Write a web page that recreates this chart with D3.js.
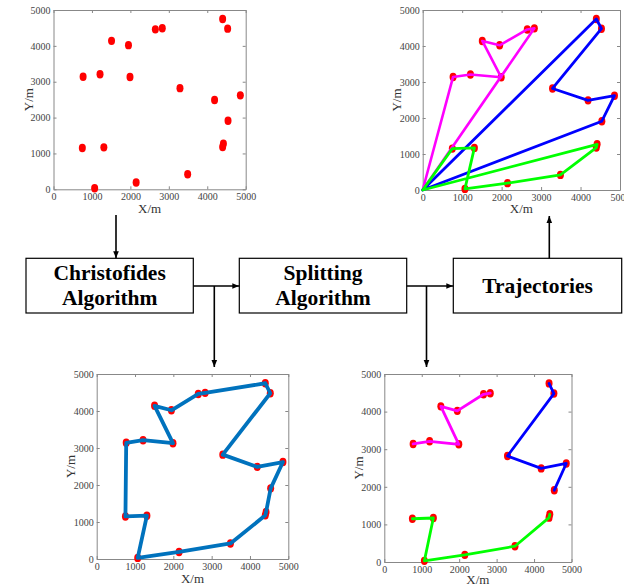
<!DOCTYPE html>
<html>
<head>
<meta charset="utf-8">
<script src="https://cdn.jsdelivr.net/npm/d3@7"></script>
<style>
  html, body { margin: 0; padding: 0; background: #fff; }
  svg { display: block; }
</style>
</head>
<body>
<svg id="chart" width="624" height="587"></svg>
<script>
// ---------------- DATA ----------------
// customer points (metres), listed in Christofides tour order
const pointX = [1070, 2150, 3490, 4400, 4420, 4540, 4860, 4190, 3290, 4530, 4400, 2830, 2650, 1950, 1510, 1990, 1210, 770, 750, 1310];
const pointY = [30, 190, 420, 1180, 1270, 1910, 2620, 2490, 2820, 4480, 4750, 4490, 4460, 4020, 4140, 3130, 3210, 3140, 1150, 1170];
const depot = [0, 0];
const christofidesTour = [0, 1, 2, 3, 4, 5, 6, 7, 8, 9, 10, 11, 12, 13, 14, 15, 16, 17, 18, 19, 0];
const routeMagenta = [17, 16, 15, 14, 13, 12, 11];
const routeBlue = [10, 9, 8, 7, 6, 5];
const routeGreen = [18, 19, 0, 1, 2, 3, 4];
const axisTicks = [0, 1000, 2000, 3000, 4000, 5000];
const xLabel = "X/m";
const yLabel = "Y/m";
const boxLabels = [["Christofides", "Algorithm"], ["Splitting", "Algorithm"], ["Trajectories"]];

// ---------------- LAYOUT ----------------
const svg = d3.select("#chart");
const serif = "'Liberation Serif', 'Times New Roman', serif";
const panels = [
  { x0: 53.5, x1: 245.7, y0: 10, y1: 189.3, ylx: 28, xly: 212.5, kind: "points" },
  { x0: 422.7, x1: 620, y0: 10, y1: 190, ylx: 396, xly: 213, kind: "traj" },
  { x0: 96.7, x1: 288.3, y0: 374, y1: 559, ylx: 70, xly: 582.5, kind: "tour" },
  { x0: 384.3, x1: 571.5, y0: 374, y1: 562, ylx: 358, xly: 584, kind: "split" }
];

const pts = pointX.map((x, i) => [x, pointY[i]]);

svg.append("defs").append("marker")
  .attr("id", "arrow").attr("viewBox", "0 0 10 10")
  .attr("refX", 10).attr("refY", 5)
  .attr("markerWidth", 7).attr("markerHeight", 7)
  .attr("markerUnits", "userSpaceOnUse")
  .attr("orient", "auto")
  .append("path").attr("d", "M0,1 L10,5 L0,9 Z").attr("fill", "#000");

panels.forEach(p => {
  const x = d3.scaleLinear().domain([0, 5000]).range([p.x0, p.x1]);
  const y = d3.scaleLinear().domain([0, 5000]).range([p.y1, p.y0]);
  const g = svg.append("g");
  g.append("rect").attr("x", p.x0).attr("y", p.y0)
    .attr("width", p.x1 - p.x0).attr("height", p.y1 - p.y0)
    .attr("fill", "#fff");

  const styleAxis = (sel, showText) => {
    sel.select(".domain").attr("stroke", "#888").attr("stroke-width", 1);
    sel.selectAll(".tick line").attr("stroke", "#888");
    sel.selectAll(".tick text").attr("fill", "#444")
      .style("font-family", serif).style("font-size", "10px")
      .attr("opacity", showText ? 1 : 0);
  };
  g.append("g").attr("transform", `translate(0,${p.y1})`)
    .call(d3.axisBottom(x).tickValues(axisTicks).tickFormat(d3.format("d")).tickSize(-3).tickSizeOuter(0).tickPadding(4))
    .call(s => styleAxis(s, true));
  g.append("g").attr("transform", `translate(0,${p.y0})`)
    .call(d3.axisTop(x).tickValues(axisTicks).tickSize(-3).tickSizeOuter(0))
    .call(s => styleAxis(s, false));
  g.append("g").attr("transform", `translate(${p.x0},0)`)
    .call(d3.axisLeft(y).tickValues(axisTicks).tickFormat(d3.format("d")).tickSize(-3).tickSizeOuter(0).tickPadding(3))
    .call(s => styleAxis(s, true));
  g.append("g").attr("transform", `translate(${p.x1},0)`)
    .call(d3.axisRight(y).tickValues(axisTicks).tickSize(-3).tickSizeOuter(0))
    .call(s => styleAxis(s, false));

  g.append("text").attr("x", (p.x0 + p.x1) / 2).attr("y", p.xly)
    .attr("text-anchor", "middle").style("font-family", serif).style("font-size", "13px")
    .attr("fill", "#333").text(xLabel);
  g.append("text").attr("transform", `translate(${p.ylx},${(p.y0 + p.y1) / 2}) rotate(-90)`)
    .attr("text-anchor", "middle").attr("dy", "0.35em").style("font-family", serif).style("font-size", "13px")
    .attr("fill", "#333").text(yLabel);

  // red markers
  g.append("g").selectAll("ellipse").data(pts).join("ellipse")
    .attr("cx", d => x(d[0])).attr("cy", d => y(d[1]))
    .attr("rx", 3.5).attr("ry", 4.2).attr("fill", "#ff0000");

  const line = d3.line().x(d => x(d[0])).y(d => y(d[1]));
  const drawPath = (coords, color, w) => g.append("path").attr("d", line(coords))
    .attr("fill", "none").attr("stroke", color).attr("stroke-width", w)
    .attr("stroke-linejoin", "round").attr("stroke-linecap", "round");

  if (p.kind === "tour") {
    drawPath(christofidesTour.map(i => pts[i]), "#0072bd", 3.8);
  } else if (p.kind === "split") {
    drawPath(routeMagenta.map(i => pts[i]), "#ff00ff", 2.8);
    drawPath(routeBlue.map(i => pts[i]), "#0000ff", 2.8);
    drawPath(routeGreen.map(i => pts[i]), "#00ff00", 2.8);
  } else if (p.kind === "traj") {
    drawPath([depot, ...routeMagenta.map(i => pts[i]), depot], "#ff00ff", 2.6);
    drawPath([depot, ...routeBlue.map(i => pts[i]), depot], "#0000ff", 2.8);
    drawPath([depot, ...routeGreen.map(i => pts[i]), depot], "#00ff00", 2.8);
  }
});

// ---------------- FLOW BOXES ----------------
const boxes = [
  { x: 26, w: 167.3 },
  { x: 239.3, w: 167.4 },
  { x: 453.3, w: 168.4 }
];
const boxY = 258.3, boxH = 54.7;
boxes.forEach((b, i) => {
  svg.append("rect").attr("x", b.x).attr("y", boxY).attr("width", b.w).attr("height", boxH)
    .attr("fill", "#fff").attr("stroke", "#000").attr("stroke-width", 1.2);
  const lines = boxLabels[i];
  const cx = b.x + b.w / 2;
  const t = svg.append("text").attr("text-anchor", "middle")
    .style("font-family", serif).style("font-size", "21.5px").style("font-weight", "bold").attr("fill", "#000");
  if (lines.length === 2) {
    t.append("tspan").attr("x", cx).attr("y", 279.5).text(lines[0]);
    t.append("tspan").attr("x", cx).attr("y", 305).text(lines[1]);
  } else {
    t.append("tspan").attr("x", cx).attr("y", 292.5).text(lines[0]);
  }
});

const midY = 286;
const conn = (x1, y1, x2, y2, arrow) => {
  const l = svg.append("line").attr("x1", x1).attr("y1", y1).attr("x2", x2).attr("y2", y2)
    .attr("stroke", "#000").attr("stroke-width", 1.6);
  if (arrow) l.attr("marker-end", "url(#arrow)");
};
conn(116, 215, 116, boxY, true);
conn(26 + 167.3, midY, 239.3, midY, true);
conn(214.3, midY, 214.3, 367, true);
conn(239.3 + 167.4, midY, 453.3, midY, true);
conn(426.5, midY, 426.5, 367, true);
conn(549.3, boxY, 549.3, 216, true);
</script>
</body>
</html>
